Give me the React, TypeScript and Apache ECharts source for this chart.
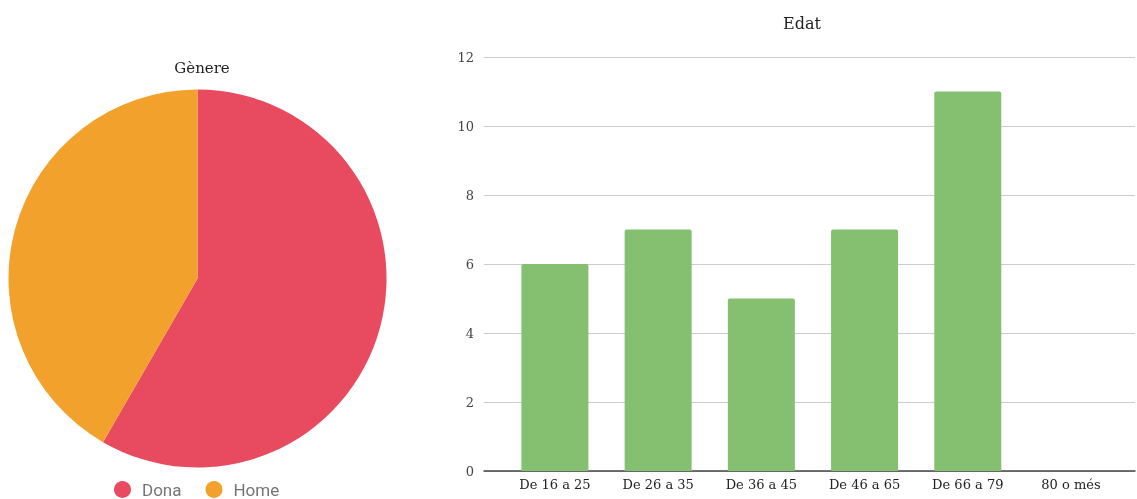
import React, { useEffect, useRef } from "react";
import * as echarts from "echarts";

const genderNames = ["Dona", "Home"];
const genderValues = [21, 15];
const genderColors = ["#E84A5F", "#F2A12C"];

const ageCategories = ["De 16 a 25", "De 26 a 35", "De 36 a 45", "De 46 a 65", "De 66 a 79", "80 o més"];
const ageValues = [6, 7, 5, 7, 11, 0];
const yTicks = [0, 2, 4, 6, 8, 10, 12];

export default function App() {
  const ref = useRef<HTMLDivElement>(null);
  useEffect(() => {
    if (!ref.current) return;
    const chart = echarts.init(ref.current, null, { renderer: "svg" });
    const positions = ageCategories.map((_, i) => i);
    chart.setOption({
      animation: false,
      title: [
        {
          text: "Gènere",
          left: 197,
          top: 55,
          textAlign: "center",
          textStyle: { fontFamily: "DejaVu Serif", fontSize: 15, fontWeight: "normal", color: "#222" },
        },
        {
          text: "Edat",
          left: 797,
          top: 10,
          textAlign: "center",
          textStyle: { fontFamily: "DejaVu Serif", fontSize: 16, fontWeight: "normal", color: "#222" },
        },
      ],
      legend: {
        data: genderNames,
        left: 114,
        top: 481,
        icon: "circle",
        itemWidth: 17,
        itemHeight: 17,
        itemGap: 24,
        padding: 0,
        textStyle: { fontFamily: "Roboto", fontSize: 17, lineHeight: 17, color: "#757575", padding: [0, 0, 0, 6] },
      },
      grid: { left: 484, right: 2, top: 57, bottom: 28, containLabel: false },
      xAxis: {
        type: "value",
        min: -0.687,
        max: 5.62,
        splitLine: { show: false },
        axisLine: { show: true, onZero: false, lineStyle: { color: "#444", width: 1.5 } },
        axisTick: { show: false },
        axisLabel: {
          customValues: positions,
          formatter: (v: number) => ageCategories[Math.round(v)] ?? "",
          fontFamily: "DejaVu Serif",
          fontSize: 13,
          color: "#222",
          margin: 7,
        },
      },
      yAxis: {
        type: "value",
        min: 0,
        max: 12,
        interval: 2,
        axisLine: { show: false },
        axisTick: { show: false },
        splitLine: { lineStyle: { color: "#cccccc", width: 1 } },
        axisLabel: {
          formatter: (v: number) => (yTicks.includes(v) ? String(v) : ""),
          fontFamily: "DejaVu Serif",
          fontSize: 13,
          color: "#444",
          margin: 10,
        },
      },
      series: [
        {
          type: "pie",
          center: [197.5, 278.5],
          radius: 189,
          startAngle: 90,
          clockwise: true,
          label: { show: false },
          labelLine: { show: false },
          emphasis: { disabled: true },
          itemStyle: { borderWidth: 0 },
          data: genderNames.map((n, i) => ({ name: n, value: genderValues[i], itemStyle: { color: genderColors[i] } })),
        },
        {
          type: "bar",
          barWidth: 67,
          itemStyle: { color: "#84C06F", borderRadius: [2, 2, 0, 0] },
          data: ageValues.map((v, i) => [i, v]),
          z: 3,
        },
      ],
    });
    return () => chart.dispose();
  }, []);
  return <div ref={ref} style={{ position: "fixed", left: 0, top: 0, width: 1137, height: 499 }} />;
}
